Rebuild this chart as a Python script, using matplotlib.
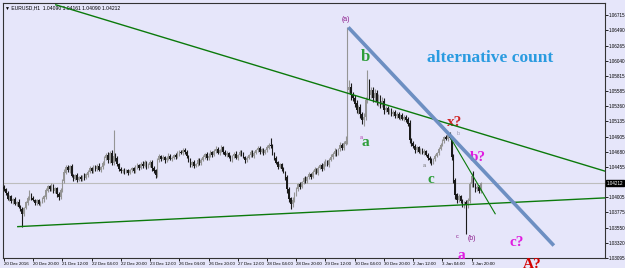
import numpy as np
import matplotlib.pyplot as plt
import matplotlib.transforms as mtransforms

# hourly closes, EURUSD H1 (20 Dec 2016 04:00 onward)
closes = [
    1.0412, 1.0406, 1.0398, 1.0401, 1.0394, 1.0397, 1.0390, 1.0393, 1.0386, 1.0382, 1.0375,
    1.0384, 1.0392, 1.0398, 1.0405, 1.0399, 1.0396, 1.0392, 1.0395, 1.0390, 1.0393, 1.0397, 1.0401,
    1.0410, 1.0416, 1.0412, 1.0418, 1.0409, 1.0413, 1.0405, 1.0400, 1.0410,
    1.0425, 1.0437, 1.0445, 1.0441, 1.0446, 1.0432,
    1.0428, 1.0433, 1.0426, 1.0430, 1.0427, 1.0432, 1.0429, 1.0434, 1.0438,
    1.0443, 1.0440, 1.0446, 1.0442, 1.0447, 1.0441, 1.0445, 1.0451,
    1.0458, 1.0463, 1.0455, 1.0466, 1.0452, 1.0462,
    1.0458, 1.0450, 1.0442, 1.0439, 1.0441, 1.0438, 1.0440, 1.0437, 1.0441, 1.0443, 1.0440,
    1.0445, 1.0448, 1.0444, 1.0450, 1.0447, 1.0452, 1.0446, 1.0449, 1.0453, 1.0444, 1.0440, 1.0434,
    1.0455, 1.0461, 1.0457, 1.0460, 1.0455, 1.0458, 1.0462, 1.0457, 1.0459, 1.0463, 1.0460, 1.0465,
    1.0468, 1.0466, 1.0470, 1.0467,
    1.0461, 1.0455, 1.0449, 1.0452, 1.0447, 1.0450, 1.0455, 1.0451, 1.0456,
    1.0460, 1.0464, 1.0458, 1.0462, 1.0467, 1.0463, 1.0469, 1.0472, 1.0466, 1.0470, 1.0474, 1.0468,
    1.0463, 1.0466, 1.0460, 1.0457, 1.0461, 1.0465, 1.0459, 1.0463, 1.0468, 1.0464, 1.0460, 1.0456,
    1.0459, 1.0463, 1.0467, 1.0462, 1.0466, 1.0470, 1.0473, 1.0468, 1.0471, 1.0466, 1.0470, 1.0474,
    1.0478, 1.0476,
    1.0465, 1.0458, 1.0452, 1.0446, 1.0449, 1.0443, 1.0438, 1.0430,
    1.0412, 1.0398, 1.0390, 1.0396, 1.0405, 1.0413,
    1.0420, 1.0416, 1.0423, 1.0428, 1.0424, 1.0430, 1.0435, 1.0431, 1.0438, 1.0442, 1.0437, 1.0444,
    1.0448, 1.0443, 1.0450, 1.0454, 1.0449, 1.0456, 1.0460,
    1.0464, 1.0469, 1.0465, 1.0472, 1.0478, 1.0473, 1.0480, 1.0484,
    1.0560,
    1.0565, 1.0552, 1.0548, 1.0540, 1.0530, 1.0535, 1.0524, 1.0515, 1.0520,
    1.0545, 1.0570, 1.0552, 1.0560, 1.0548,
    1.0555, 1.0542, 1.0550, 1.0538, 1.0544, 1.0530,
    1.0533, 1.0527, 1.0530, 1.0524, 1.0527, 1.0521, 1.0524, 1.0519, 1.0522, 1.0517, 1.0520, 1.0516,
    1.0510,
    1.0486, 1.0480, 1.0476, 1.0470, 1.0474,
    1.0468, 1.0471, 1.0466, 1.0469, 1.0463, 1.0459, 1.0456, 1.0452, 1.0457, 1.0462, 1.0466, 1.0472,
    1.0478, 1.0484, 1.0490, 1.0487, 1.0493, 1.0489,
    1.0460, 1.0426, 1.0404, 1.0396,
    1.0402, 1.0395, 1.0390, 1.0393, 1.0388, 1.0395,
    1.0420, 1.0432,
    1.0418, 1.0412, 1.0415, 1.0409, 1.0421,
]
first_open = 1.0415

# wick length beyond the body, in pips
up_wick = [
    3, 2, 4, 2, 3, 2, 3, 1, 4, 2, 3, 2, 3, 4, 6, 2, 3, 2, 3, 2,
    2, 3, 2, 4, 3, 2, 4, 2, 3, 2, 3, 4, 3, 5, 4, 3, 2, 4, 3, 2,
    3, 2, 3, 2, 4, 2, 3, 4, 2, 3, 2, 3, 4, 2, 3, 4, 3, 5, 3, 4,
    38, 4, 3, 2, 3, 2, 3, 2, 3, 2, 3, 2, 4, 3, 2, 3, 4, 3, 2, 3,
    3, 2, 3, 2, 4, 3, 2, 3, 2, 3, 4, 2, 3, 2, 3, 4, 3, 2, 4, 3,
    3, 2, 3, 2, 3, 2, 4, 3, 2, 3, 2, 3, 4, 3, 2, 3, 4, 3, 2, 4,
    3, 2, 3, 2, 3, 2, 3, 4, 2, 3, 2, 3, 2, 3, 2, 3, 4, 3, 2, 3,
    3, 2, 3, 2, 4, 3, 10, 3, 2, 3, 2, 3, 2, 3, 2, 4, 3, 2, 4, 3,
    3, 2, 3, 2, 3, 4, 2, 3, 2, 3, 4, 2, 3, 2, 3, 4, 3, 2, 3, 4,
    3, 4, 3, 2, 5, 3, 4, 8, 94, 10, 6, 5, 4, 6, 3, 5, 4, 6, 5, 20,
    6, 5, 4, 6, 5, 4, 3, 5, 4, 3, 4, 3, 4, 3, 4, 3, 4, 3, 4, 3,
    3, 4, 5, 3, 4, 3, 3, 2, 3, 2, 3, 2, 3, 2, 3, 2, 3, 2, 3, 3,
    3, 2, 3, 5, 5, 3, 4, 3, 2, 3, 2, 3, 2, 3, 4, 3, 4, 8, 3, 4,
    3, 2,
]
down_wick = [
    2, 3, 2, 3, 2, 4, 2, 3, 2, 3, 19, 3, 2, 3, 2, 3, 2, 4, 3, 2,
    3, 2, 4, 3, 2, 3, 2, 3, 2, 4, 4, 3, 2, 3, 2, 3, 4, 2, 3, 2,
    3, 2, 3, 2, 3, 2, 3, 2, 4, 3, 2, 3, 2, 3, 2, 3, 2, 3, 4, 3,
    3, 4, 3, 2, 3, 2, 3, 2, 3, 2, 3, 4, 3, 2, 3, 2, 3, 2, 3, 2,
    3, 4, 3, 5, 3, 2, 3, 2, 3, 2, 3, 2, 3, 2, 3, 2, 3, 2, 3, 2,
    3, 2, 3, 4, 3, 2, 3, 2, 3, 2, 3, 2, 3, 2, 3, 2, 3, 2, 3, 2,
    3, 2, 3, 2, 3, 4, 3, 2, 3, 2, 3, 2, 4, 3, 2, 3, 2, 3, 2, 3,
    3, 2, 3, 2, 3, 2, 3, 2, 3, 2, 3, 2, 3, 2, 4, 6, 5, 8, 4, 3,
    3, 4, 3, 2, 3, 2, 3, 2, 3, 2, 3, 2, 3, 2, 3, 2, 3, 2, 3, 2,
    3, 2, 3, 2, 3, 2, 3, 2, 4, 5, 6, 4, 5, 4, 6, 5, 6, 8, 5, 4,
    5, 4, 6, 5, 4, 5, 4, 3, 5, 3, 2, 3, 2, 3, 2, 3, 2, 3, 2, 3,
    3, 4, 5, 4, 3, 4, 3, 2, 3, 2, 3, 2, 3, 4, 3, 2, 3, 2, 3, 2,
    2, 3, 2, 3, 2, 4, 5, 6, 4, 3, 4, 5, 6, 42, 4, 3, 4, 3, 4, 3,
    3, 2,
]

x_labels = ['20 Dec 2016', '20 Dec 20:00', '21 Dec 12:00', '22 Dec 04:00', '22 Dec 20:00',
            '23 Dec 12:00', '26 Dec 04:00', '26 Dec 20:00', '27 Dec 12:00', '28 Dec 04:00',
            '28 Dec 20:00', '29 Dec 12:00', '30 Dec 04:00', '30 Dec 20:00', '2 Jan 12:00',
            '3 Jan 04:00', '3 Jan 20:00']
y_ticks = [1.06715, 1.06490, 1.06265, 1.06040, 1.05815, 1.05585, 1.05360, 1.05135, 1.04905,
           1.04680, 1.04455, 1.04005, 1.03775, 1.03550, 1.03320, 1.03095]
last_price = 1.04212

# trend lines (bar index, price)
upper_line = ([28.4, 329], [1.06873, 1.04391])
lower_line = ([7.6, 329], [1.03563, 1.03992])
blue_line = ([188.5, 301], [1.06537, 1.03281])
short_line = ([244.3, 268.9], [1.04895, 1.03755])

bg = '#E6E6FA'
small_font = 'Liberation Sans'
closes = np.array(closes)
opens = np.concatenate([[first_open], closes[:-1]])
highs = np.maximum(opens, closes) + np.array(up_wick) * 0.0001
lows = np.minimum(opens, closes) - np.array(down_wick) * 0.0001
idx = np.arange(len(closes))
bull = closes >= opens
colors = np.where(bull, '#959595', '#1A1A1A')

fig = plt.figure(figsize=(6.25, 2.68), dpi=100, facecolor=bg)
ax = fig.add_axes([3 / 625, 10 / 268, 602 / 625, 255 / 268])
ax.set_facecolor(bg)

ax.axhline(last_price, color='#BDBDBD', lw=0.8, zorder=1)

ax.vlines(idx, lows, highs, colors=colors, lw=0.8, zorder=3)
ax.bar(idx, np.abs(closes - opens) + 0.00004, bottom=np.minimum(opens, closes),
       width=0.8, color=colors, zorder=3)

ax.plot(*upper_line, color='#0B7A0B', lw=1.0, zorder=4)
ax.plot(*lower_line, color='#0B7A0B', lw=1.0, zorder=4)
ax.plot(*short_line, color='#0B7A0B', lw=0.8, zorder=4)
ax.plot(*blue_line, color='#6D8FC2', lw=2.6, zorder=4, solid_capstyle='butt')

ax.set_xlim(-0.5, 329)
ax.set_ylim(1.03095, 1.06900)

ax.set_xticks(np.arange(len(x_labels)) * 16)
ax.set_xticklabels(x_labels, fontsize=3.2, ha='left', family=small_font)
ax.yaxis.tick_right()
ax.set_yticks(y_ticks)
ax.set_yticklabels(['%.5f' % v for v in y_ticks], fontsize=3.3, family=small_font)
ax.tick_params(axis='both', length=2, width=0.6, pad=1.0, colors='black')
for s in ax.spines.values():
    s.set_linewidth(0.8)
    s.set_color('#333333')

trans = mtransforms.blended_transform_factory(ax.transAxes, ax.transData)
ax.text(1.003, last_price, '%.5f' % last_price, transform=trans, fontsize=3.3, color='white',
        family=small_font, va='center', ha='left',
        bbox=dict(boxstyle='square,pad=0.15', fc='black', ec='black'))

ax.text(0.003, 0.99, '\u25bc EURUSD,H1  1.04090 1.04161 1.04090 1.04212', transform=ax.transAxes,
        fontsize=3.6, va='top', ha='left', family=[small_font, 'DejaVu Sans'])

serif = dict(family='Liberation Serif', fontweight='bold', ha='center', va='center')
ax.text(266, 1.0608, 'alternative count', color='#2A9BE0', fontsize=12.5, **serif)
ax.text(197.6, 1.0609, 'b', color='#2E9E3A', fontsize=12, **serif)
ax.text(197.6, 1.0482, 'a', color='#2E9E3A', fontsize=11, **serif)
ax.text(233.8, 1.0426, 'c', color='#2E9E3A', fontsize=11, **serif)
ax.text(246.9, 1.0512, 'x?', color='#D02424', fontsize=11, **serif)
ax.text(259.5, 1.0460, 'b?', color='#E01CE0', fontsize=11, **serif)
ax.text(250.2, 1.0313, 'a', color='#E01CE0', fontsize=11, **serif)
ax.text(280.8, 1.0333, 'c?', color='#E01CE0', fontsize=11, **serif)
ax.text(289, 1.0300, 'A?', color='#D40000', fontsize=11, clip_on=False, **serif)

small = dict(ha='center', va='center', fontsize=5, family=small_font)
ax.text(187.2, 1.0666, '(a)', color='#8B1A8B', **small)
ax.text(256.2, 1.0339, '(b)', color='#8B1A8B', **small)
tiny = dict(ha='center', va='center', fontsize=4, family=small_font)
ax.text(248, 1.0341, 'c', color='#8B1A8B', **tiny)
ax.text(195.5, 1.0490, 'a', color='#B040B0', **tiny)
ax.text(204.8, 1.0605, 'b', color='#B040B0', **tiny)
ax.text(248.5, 1.0496, 'b', color='#9A9AB0', **tiny)
ax.text(230, 1.0447, 'a', color='#707070', **tiny)

fig.savefig('out.png', dpi=100, facecolor=bg)
